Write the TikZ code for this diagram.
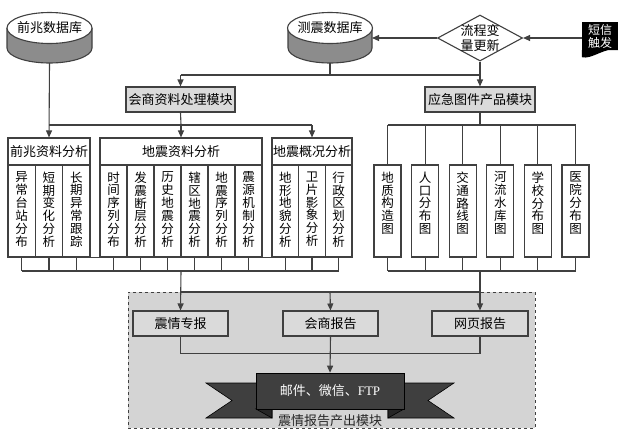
\documentclass[tikz,border=0pt]{standalone}
\usepackage{fontspec}
\setmainfont{Liberation Serif}
\newfontfamily\cjk{Noto Sans CJK SC}
\usetikzlibrary{arrows.meta,calc,positioning,shapes.geometric}
\definecolor{ink}{HTML}{404040}
\definecolor{panel}{HTML}{DADADA}
\definecolor{zone}{HTML}{D4D4D4}
\definecolor{barrel}{HTML}{8C8C8C}
\definecolor{band}{HTML}{3F3F3F}
\definecolor{foldc}{HTML}{262626}
\tikzset{wire/.style={draw=ink, line width=1.1pt}, flow/.style={wire, -{Triangle[length=7pt,width=6pt]}}, zh/.style={font=\cjk\fontsize{13}{15}\selectfont}, mod/.style={zh, draw=ink, line width=1.1pt, fill=panel, minimum width=109pt, minimum height=25pt, inner sep=0pt}, head/.style={zh, draw=ink, line width=1.1pt, fill=white, minimum height=27pt, inner sep=0pt}, colbox/.style={draw=ink, line width=1.1pt, fill=white, minimum width=27pt, minimum height=92pt, inner sep=0pt}, coltxt/.style={anchor=north, align=center, inner sep=0pt, font=\cjk\fontsize{12.5}{12.9}\selectfont}, db/.style={zh, ellipse, draw=ink, line width=1.1pt, fill=white, minimum width=85pt, minimum height=31pt, inner sep=-4pt}}

\begin{document}
\begin{tikzpicture}[x=1pt,y=-1pt]
\useasboundingbox (0,0) rectangle (631,437);
\node[draw=ink, dashed, line width=0.8pt, fill=zone, minimum width=407pt, minimum height=136pt] (outzone) at (331.5,360) {};
\foreach \n/\x/\r/\t in {qzdb/49.5/42.5/前兆数据库, czdb/330/42/测震数据库} {
\filldraw[fill=barrel, draw=ink, line width=1.1pt] (\x-\r,28) -- (\x-\r,48) arc[start angle=180, end angle=360, x radius=\r pt, y radius=15pt] -- (\x+\r,28);
\node[db] (\n) at (\x,28) {\t}; \coordinate (\n-b) at (\x,63); \coordinate (\n-r) at (\x+\r,38);}
\node[zh, diamond, draw=ink, line width=1.1pt, fill=white, aspect=1.85, minimum width=85pt, minimum height=46pt, inner sep=-3pt, align=center] (lcgx) at (480,38) {流程变\\量更新};
\node[fill=black, minimum width=36pt, minimum height=28pt, inner sep=0pt, text=white, align=center, font=\cjk\fontsize{12}{13}\selectfont] (dxcf) at (600,36) {短信\\触发};
\fill (dxcf.south west) -- ++(0,7) .. controls (592,60) and (606,46) .. (dxcf.south east) -- cycle;
\draw[flow] (dxcf.west |- lcgx.east) -- (lcgx.east); \draw[flow] (lcgx.west) -- (czdb-r);
\node[mod] (hszl) at (180.5,99.5) {会商资料处理模块}; \node[mod, minimum width=110pt] (yjtj) at (480,99.5) {应急图件产品模块};
\coordinate (tbus) at (330,75); \draw[wire] (czdb-b) -- (tbus); \draw[wire] (hszl.north |- tbus) -- (yjtj.north |- tbus);
\draw[flow] (hszl.north |- tbus) -- (hszl.north); \draw[flow] (lcgx.south) -- (yjtj.north);
\node[head, minimum width=82pt] (qzfx) at (49,151.5) {前兆资料分析}; \node[head, minimum width=162pt] (dzfx) at (181,151.5) {地震资料分析}; \node[head, minimum width=80pt] (gkfx) at (312,151.5) {地震概况分析};
\coordinate (hbus) at (181,125); \draw[wire] (hszl.south) -- (hbus); \draw[wire] (qzfx.north |- hbus) -- (gkfx.north |- hbus);
\draw[flow] (qzdb-b) -- (qzfx.north); \draw[flow] (hbus) -- (dzfx.north); \draw[flow] (gkfx.north |- hbus) -- (gkfx.north);
\coordinate (lbus) at (181,271); \coordinate (rbus) at (480,271); \coordinate (mbus) at (480,125);
\foreach \t [count=\i] in {{异\\常\\台\\站\\分\\布},{短\\期\\变\\化\\分\\析},{长\\期\\异\\常\\跟\\踪}} {
\node[colbox, minimum width=27.33pt] (qz\i) at ({8+27.33*(\i-0.5)},211) {}; \node[coltxt] (qzt\i) at ([yshift=-7pt]qz\i.north) {\t};}
\foreach \t [count=\i] in {{时\\间\\序\\列\\分\\布},{发\\震\\断\\层\\分\\析},{历\\史\\地\\震\\分\\析},{辖\\区\\地\\震\\分\\析},{地\\震\\序\\列\\分\\析},{震\\源\\机\\制\\分\\析}} {
\node[colbox] (dz\i) at ({100+27*(\i-0.5)},211) {}; \node[coltxt] (dzt\i) at ([yshift=-7pt]dz\i.north) {\t};}
\foreach \t [count=\i] in {{地\\形\\地\\貌\\分\\析},{卫\\片\\影\\象\\分\\析},{行\\政\\区\\划\\分\\析}} {
\node[colbox, minimum width=26.67pt] (gk\i) at ({272+26.67*(\i-0.5)},211) {}; \node[coltxt] (gkt\i) at ([yshift=-7pt]gk\i.north) {\t};}
\foreach \c in {qz1,qz2,qz3,dz1,dz2,dz3,dz4,dz5,dz6,gk1,gk2,gk3} {\draw[wire] (\c.south) -- (\c.south |- lbus);}
\draw[wire] (qz1.south) -- (gk3.south); \draw[wire] (qz1.south |- lbus) -- (gk3.south |- lbus);
\foreach \t [count=\i] in {{地\\质\\构\\造\\图},{人\\口\\分\\布\\图},{交\\通\\路\\线\\图},{河\\流\\水\\库\\图},{学\\校\\分\\布\\图},{医\\院\\分\\布\\图}} {
\node[colbox] (mp\i) at ({387.5+37.6*(\i-1)},211) {}; \node[coltxt] (mpt\i) at ([yshift=-7pt]mp\i.north) {\t};
\draw[wire] (mp\i.north |- mbus) -- (mp\i.north); \draw[wire] (mp\i.south) -- (mp\i.south |- rbus);}
\draw[wire] (yjtj.south) -- (mbus); \draw[wire] (mp1.north |- mbus) -- (mp6.north |- mbus); \draw[wire] (mp1.south |- rbus) -- (mp6.south |- rbus);
\node[mod, fill=panel, minimum width=95pt] (zqzb) at (180.5,323.5) {震情专报}; \node[mod, minimum width=95pt] (hsbg) at (330.5,323.5) {会商报告}; \node[mod, minimum width=96pt] (wybg) at (480,323.5) {网页报告};
\coordinate (obus) at (330,292); \draw[wire] (zqzb.north |- obus) -- (wybg.north |- obus);
\draw[flow] (lbus) -- (zqzb.north); \draw[flow] (rbus) -- (wybg.north); \draw[flow] (obus) -- (hsbg.north);
\filldraw[fill=band, draw=black, line width=0.6pt] (206,383) -- (272,383) -- (272,418) -- (206,418) -- (232,400.5) -- cycle;
\filldraw[fill=band, draw=black, line width=0.6pt] (454,383) -- (388,383) -- (388,418) -- (454,418) -- (428,400.5) -- cycle;
\filldraw[fill=foldc, draw=black, line width=0.6pt] (256,409) -- (272,418) -- (272,409) -- cycle; \filldraw[fill=foldc, draw=black, line width=0.6pt] (404,409) -- (388,418) -- (388,409) -- cycle;
\node[zh, fill=band, draw=black, line width=0.6pt, minimum width=148pt, minimum height=36pt, text=white] (tdqd) at (330,391) {邮件、微信、{\rmfamily FTP}};
\draw[wire] (zqzb.south) -- ++(0,17) -| (wybg.south); \draw[flow] (hsbg.south) -- (tdqd.north);
\node[zh, text=black!85, inner sep=0pt] (sclb) at (330,421) {震情报告产出模块};
\end{tikzpicture}
\end{document}
